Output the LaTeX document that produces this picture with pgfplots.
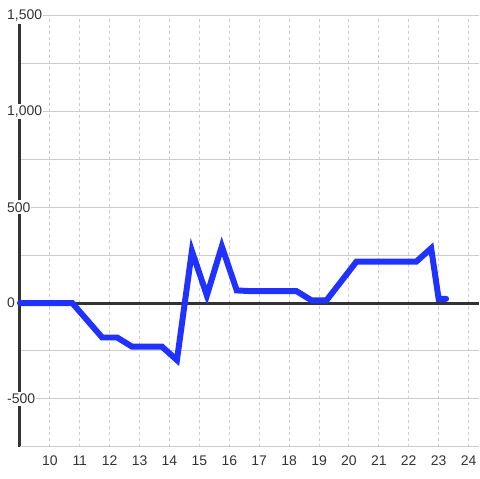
\documentclass[border=0pt]{standalone}
\usepackage{fontspec}
\setmainfont{Liberation Sans}
\usepackage{pgfplots}
\pgfplotsset{compat=1.18}
\definecolor{lineblue}{RGB}{32,50,255}
\definecolor{darkax}{RGB}{51,51,51}
\definecolor{gridgray}{RGB}{204,204,204}
\definecolor{labgray}{RGB}{51,51,51}
\begin{document}
\begin{tikzpicture}
\begin{axis}[
  set layers,
  scale only axis,
  width=460pt, height=432pt,
  xmin=9, xmax=24.333,
  ymin=-750, ymax=1500,
  axis x line*=bottom,
  axis y line*=left,
  x axis line style={gridgray, line width=1.5pt, -},
  y axis line style={draw=none},
  xtick={10,...,24},
  ytick={-500,0,500,1000,1500},
  minor ytick={-750,-250,250,750,1250},
  major tick length=0pt, minor tick length=0pt,
  xmajorgrids, ymajorgrids, yminorgrids,
  x grid style={gridgray, dash pattern=on 3pt off 3pt, line width=1pt},
  y grid style={gridgray, line width=1pt},
  /pgf/number format/assume math mode=true,
  /pgf/number format/1000 sep={,},
  tick label style={font=\fontsize{14}{16}\selectfont, text=labgray},
  yticklabel style={anchor=west, xshift=-14pt, fill=white, draw=none, inner xsep=1pt, inner ysep=2pt},
  xticklabel style={yshift=-6pt},
  clip=false,
]
\addplot[on layer=axis grid, darkax, line width=3pt] coordinates {(9,-750) (9,1500)};
\addplot[darkax, line width=3pt] coordinates {(9,0) (24.333,0)};
\addplot[lineblue, line width=6pt, line cap=round, line join=miter] coordinates {
(9,0)(10.75,0)(11.75,-180)(12.25,-180)(12.75,-228)(13.75,-228)(14.25,-298)
(14.75,272)(15.25,40)(15.75,296)(16.25,66)(16.75,62)(17.25,62)(17.75,62)(18.25,62)
(18.75,14)(19.25,14)(20.25,216)(22.25,216)(22.75,286)(23.0,22)(23.25,22)
};
\coordinate (sw) at (rel axis cs:0,0);
\end{axis}
\path (sw) ++(-20pt,-32pt) rectangle ++(480pt,480pt);
\end{tikzpicture}
\end{document}
